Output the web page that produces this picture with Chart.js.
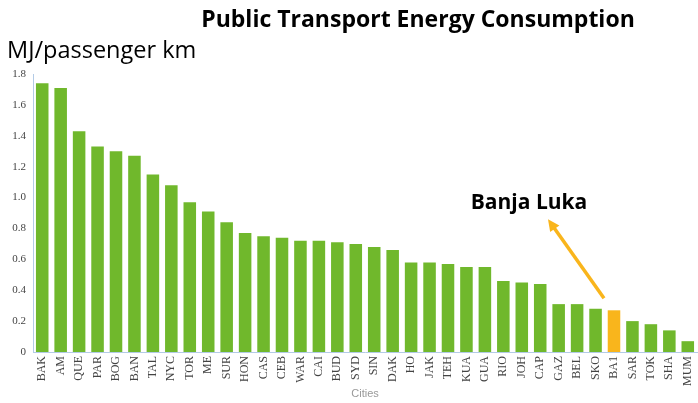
<!DOCTYPE html>
<html>
<head>
<meta charset="utf-8">
<script src="https://cdn.jsdelivr.net/npm/chart.js@4/dist/chart.umd.min.js"></script>
<style>
  html, body { margin: 0; padding: 0; background: #fff; }
  #wrap { width: 698px; height: 403px; position: relative; }
</style>
</head>
<body>
<div id="wrap"><canvas id="energyChart"></canvas></div>
<script>
const cities = ['BAK', 'AM', 'QUE', 'PAR', 'BOG', 'BAN', 'TAL', 'NYC', 'TOR', 'ME', 'SUR', 'HON',
    'CAS', 'CEB', 'WAR', 'CAI', 'BUD', 'SYD', 'SIN', 'DAK', 'HO', 'JAK', 'TEH', 'KUA',
    'GUA', 'RIO', 'JOH', 'CAP', 'GAZ', 'BEL', 'SKO', 'BA1', 'SAR', 'TOK', 'SHA', 'MUM'];
const energyUse = [1.74, 1.71, 1.43, 1.33, 1.30, 1.27, 1.15, 1.08, 0.97, 0.91, 0.84, 0.77,
    0.75, 0.74, 0.72, 0.72, 0.71, 0.70, 0.68, 0.66, 0.58, 0.58, 0.57, 0.55,
    0.55, 0.46, 0.45, 0.44, 0.31, 0.31, 0.28, 0.27, 0.20, 0.18, 0.14, 0.07];
const highlightCity = 'BA1';
const highlightName = 'Banja Luka';
const chartTitle = 'Public Transport Energy Consumption';
const unitLabel = 'MJ/passenger km';

const green = '#70b82c';
const orange = '#f9b51c';

const barColors = cities.map(c => c === highlightCity ? orange : green);

// titles, unit label and the Banja Luka arrow
const extras = {
    id: 'extras',
    afterDraw(chart) {
        const ctx = chart.ctx;
        const xs = chart.scales.x;
        const ys = chart.scales.y;
        ctx.save();
        ctx.fillStyle = '#000';
        ctx.textBaseline = 'alphabetic';

        ctx.font = 'bold 23px "Open Sans", Lato, sans-serif';
        ctx.textAlign = 'center';
        ctx.fillText(chartTitle, 418, 27);

        ctx.font = '23.5px "Open Sans", Lato, sans-serif';
        ctx.textAlign = 'left';
        ctx.fillText(unitLabel, 7, 58);

        const i = cities.indexOf(highlightCity);
        const bx = xs.getPixelForValue(i);
        const tailX = bx - 10, tailY = ys.getPixelForValue(energyUse[i]) - 12;
        const tipX = bx - 66, tipY = ys.getPixelForValue(0.86);

        ctx.font = 'bold 21px "Open Sans", Lato, sans-serif';
        ctx.textAlign = 'center';
        ctx.fillText(highlightName, tipX - 19, tipY - 10);

        const ang = Math.atan2(tipY - tailY, tipX - tailX);
        const head = 13;
        ctx.strokeStyle = orange;
        ctx.fillStyle = orange;
        ctx.lineWidth = 3.5;
        ctx.beginPath();
        ctx.moveTo(tailX, tailY);
        ctx.lineTo(tipX - Math.cos(ang) * head * 0.8, tipY - Math.sin(ang) * head * 0.8);
        ctx.stroke();
        ctx.beginPath();
        ctx.moveTo(tipX, tipY);
        ctx.lineTo(tipX - head * Math.cos(ang - 0.45), tipY - head * Math.sin(ang - 0.45));
        ctx.lineTo(tipX - head * Math.cos(ang + 0.45), tipY - head * Math.sin(ang + 0.45));
        ctx.closePath();
        ctx.fill();
        ctx.restore();
    }
};

new Chart(document.getElementById('energyChart').getContext('2d'), {
    type: 'bar',
    data: {
        labels: cities,
        datasets: [{
            data: energyUse,
            backgroundColor: barColors,
            barPercentage: 0.68,
            categoryPercentage: 1.0
        }]
    },
    options: {
        responsive: true,
        maintainAspectRatio: false,
        animation: false,
        layout: { padding: { top: 74, left: 3, right: 1, bottom: 2 } },
        plugins: {
            legend: { display: false },
            tooltip: { enabled: false }
        },
        scales: {
            x: {
                grid: { display: false, drawTicks: false },
                border: { color: '#b3cbe6', width: 1 },
                ticks: {
                    color: '#444',
                    font: { family: '"Liberation Serif", serif', size: 12 },
                    minRotation: 90,
                    maxRotation: 90,
                    autoSkip: false,
                    padding: 4
                },
                title: {
                    display: true,
                    text: 'Cities',
                    color: '#999',
                    font: { family: '"Liberation Sans", sans-serif', size: 11 },
                    padding: { top: 0, bottom: 0 }
                },
                afterFit(scale) {
                    scale.height = 49;
                    scale.paddingLeft = 0;
                    scale.paddingRight = 0;
                }
            },
            y: {
                min: 0,
                max: 1.8,
                grid: { display: false, drawTicks: false },
                border: { color: '#b3cbe6', width: 1 },
                ticks: {
                    stepSize: 0.2,
                    color: '#444',
                    font: { family: '"Liberation Serif", serif', size: 11 },
                    padding: 7
                },
                afterFit(scale) { scale.width = 30; }
            }
        }
    },
    plugins: [extras]
});
</script>
</body>
</html>
